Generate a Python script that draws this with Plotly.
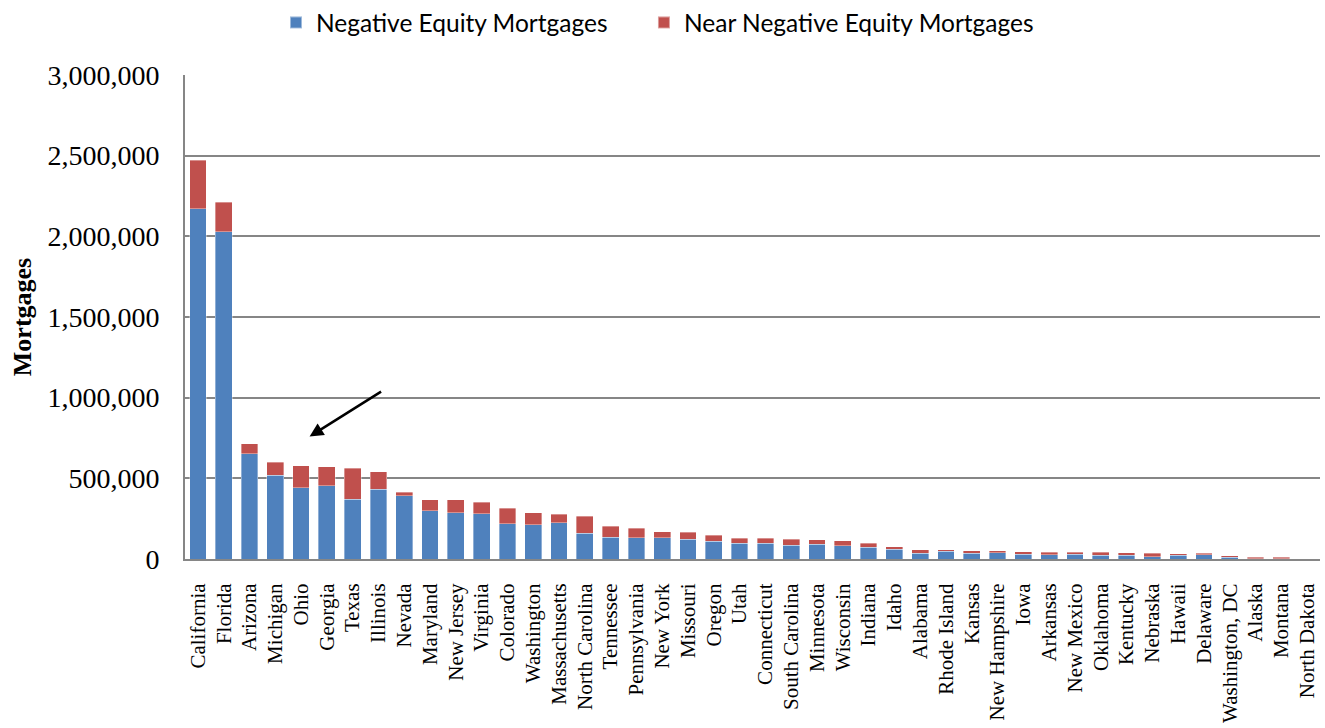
import plotly.graph_objects as go

states = ["California", "Florida", "Arizona", "Michigan", "Ohio", "Georgia", "Texas", "Illinois",
          "Nevada", "Maryland", "New Jersey", "Virginia", "Colorado", "Washington", "Massachusetts",
          "North Carolina", "Tennessee", "Pennsylvania", "New York", "Missouri", "Oregon", "Utah",
          "Connecticut", "South Carolina", "Minnesota", "Wisconsin", "Indiana", "Idaho", "Alabama",
          "Rhode Island", "Kansas", "New Hampshire", "Iowa", "Arkansas", "New Mexico", "Oklahoma",
          "Kentucky", "Nebraska", "Hawaii", "Delaware", "Washington, DC", "Alaska", "Montana",
          "North Dakota"]

negative_equity = [2171000, 2029000, 652000, 520000, 442000, 453000, 370000, 432000, 393000, 300000,
                   288000, 280000, 220000, 212000, 224000, 160000, 134000, 132000, 132000, 123000,
                   109000, 99000, 97000, 84000, 91000, 82000, 72000, 62000, 35000, 47000,
                   35000, 39000, 29000, 25000, 31000, 23000, 23000, 14000, 22000, 25000,
                   12000, 3000, 3000, 1000]

near_negative_equity = [300000, 183000, 62000, 79000, 136000, 119000, 194000, 109000, 21000, 68000,
                        78000, 72000, 95000, 74000, 52000, 105000, 70000, 59000, 37000, 44000,
                        39000, 31000, 31000, 39000, 28000, 31000, 27000, 14000, 22000, 10000,
                        16000, 12000, 16000, 16000, 10000, 18000, 17000, 21000, 11000, 10000,
                        9000, 9000, 9000, 1000]

y_ticks = [0, 500000, 1000000, 1500000, 2000000, 2500000, 3000000]

fig = go.Figure()
fig.add_trace(go.Bar(x=states, y=negative_equity, name="Negative Equity Mortgages", legend="legend",
                     marker=dict(color="#4F81BD", line=dict(color="rgba(255,255,255,0.45)", width=0.8))))
fig.add_trace(go.Bar(x=states, y=near_negative_equity, name="Near Negative Equity Mortgages", legend="legend2",
                     marker=dict(color="#C0504D", line=dict(color="rgba(255,255,255,0.45)", width=0.8))))

fig.add_annotation(x=4.33, y=759000, ax=7.16, ay=1043000, xref="x", yref="y", axref="x", ayref="y",
                   text="", showarrow=True, arrowhead=2, arrowsize=1.1, arrowwidth=2.5,
                   arrowcolor="black", standoff=0)

legend_style = dict(orientation="h", yanchor="top", y=1.0, xanchor="left",
                    xref="container", yref="container",
                    font=dict(family="Lato", size=24.5, color="black"),
                    itemsizing="constant", bgcolor="rgba(0,0,0,0)")

fig.update_layout(
    barmode="stack",
    bargap=0.35,
    width=1325, height=728,
    margin=dict(l=185, r=5, t=75, b=167),
    plot_bgcolor="white", paper_bgcolor="white",
    font=dict(family="Liberation Serif", color="black"),
    legend=dict(x=0.2083, **legend_style),
    legend2=dict(x=0.486, **legend_style),
    showlegend=True,
)
fig.update_xaxes(
    tickmode="array", tickvals=states, ticktext=states,
    tickangle=-90, tickfont=dict(family="Liberation Serif", size=21, color="black"),
    showline=True, linecolor="#868686", linewidth=2, showgrid=False,
    ticks="outside", ticklen=14, tickcolor="rgba(0,0,0,0)",
    range=[-0.5, len(states) - 0.5],
)
fig.update_yaxes(
    range=[0, 3000000], tickvals=y_ticks, tickformat=",",
    tickfont=dict(family="Liberation Serif", size=28, color="black"),
    showgrid=True, gridcolor="#868686", gridwidth=1.5,
    showline=True, linecolor="#868686", linewidth=2,
    ticks="outside", ticklen=18, tickcolor="rgba(0,0,0,0)",
    zeroline=False,
    title=dict(text="<b>Mortgages</b>", font=dict(family="Liberation Serif", size=26, color="black"),
               standoff=8),
    automargin=False,
)

fig.write_html("out.html", config={"displayModeBar": False},
               post_script="document.body.style.margin='0';")
